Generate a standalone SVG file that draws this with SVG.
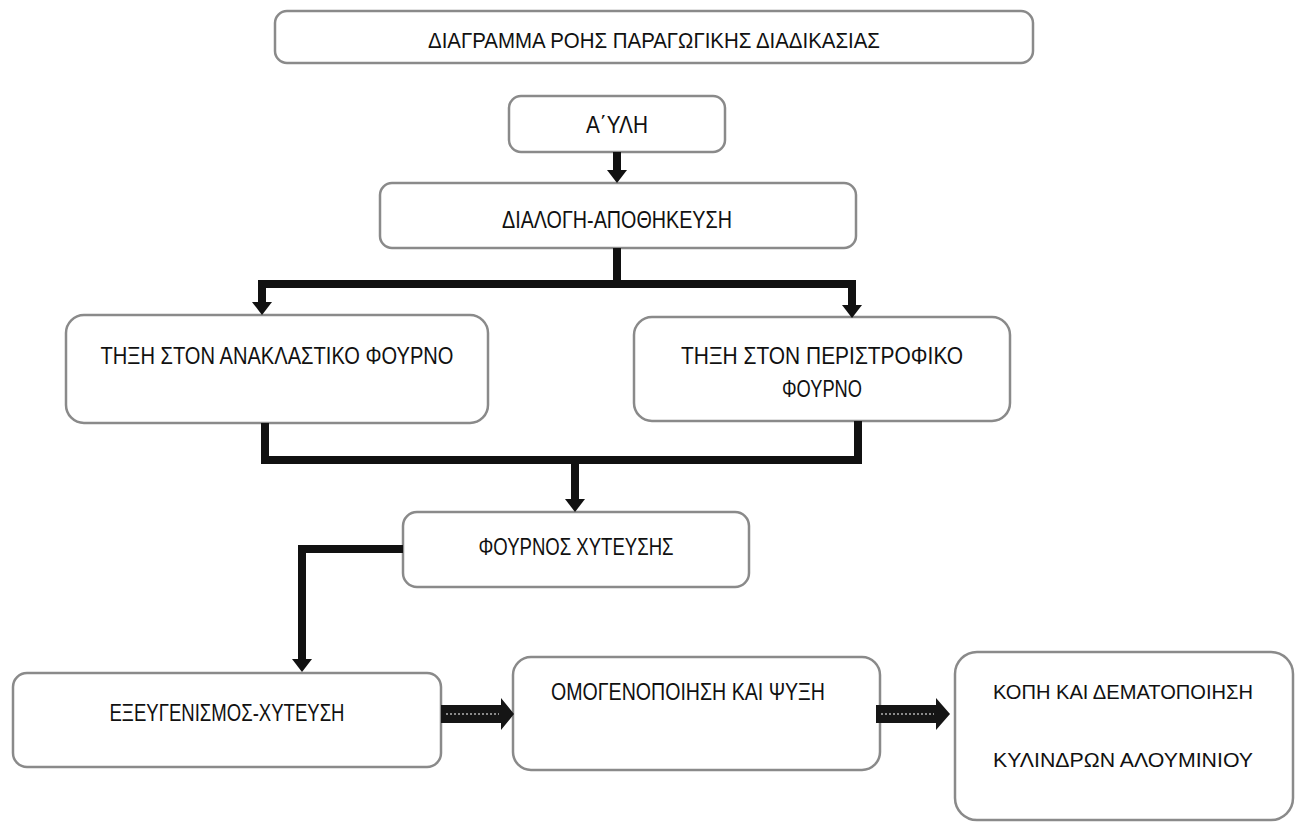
<svg xmlns="http://www.w3.org/2000/svg" width="1297" height="823" viewBox="0 0 1297 823">
<style>
.box{fill:#fff;stroke:#8a8a8a;stroke-width:2.5}
.t{font-family:"Liberation Sans","DejaVu Sans",sans-serif;font-size:24px;fill:#111;text-anchor:middle}
.ts{font-family:"Liberation Sans","DejaVu Sans",sans-serif;font-size:21px;fill:#111;text-anchor:middle}
.tt{font-family:"Liberation Sans","DejaVu Sans",sans-serif;font-size:22px;fill:#111;text-anchor:middle}
.c{fill:none;stroke:#111;stroke-width:8;stroke-linejoin:miter}
.blk{fill:#151515}
.core{stroke:#8a8a8a;stroke-width:2;stroke-dasharray:2 2}
</style>
<defs>
<marker id="ah" markerUnits="userSpaceOnUse" viewBox="0 0 13 20" markerWidth="13" markerHeight="20" refX="0" refY="10" orient="auto">
<path d="M0,0 L13,10 L0,20 z" fill="#111"/>
</marker>
</defs>
<g id="title">
<rect class="box" x="275" y="11" width="758" height="52" rx="12"/>
<text class="tt" x="654" y="48" textLength="452" lengthAdjust="spacingAndGlyphs">ΔΙΑΓΡΑΜΜΑ ΡΟΗΣ ΠΑΡΑΓΩΓΙΚΗΣ ΔΙΑΔΙΚΑΣΙΑΣ</text>
</g>
<g id="n_ayli">
<rect class="box" x="509" y="96" width="216" height="56" rx="12"/>
<text class="t" x="617" y="133" textLength="62" lengthAdjust="spacingAndGlyphs">Α΄ΥΛΗ</text>
</g>
<g id="n_dialogi">
<rect class="box" x="380" y="183" width="476" height="65" rx="12"/>
<text class="t" x="617" y="228" textLength="230" lengthAdjust="spacingAndGlyphs">ΔΙΑΛΟΓΗ-ΑΠΟΘΗΚΕΥΣΗ</text>
</g>
<g id="n_anaklastiko">
<rect class="box" x="66" y="315" width="422" height="108" rx="18"/>
<text class="t" x="277" y="364" textLength="353" lengthAdjust="spacingAndGlyphs">ΤΗΞΗ ΣΤΟΝ ΑΝΑΚΛΑΣΤΙΚΟ ΦΟΥΡΝΟ</text>
</g>
<g id="n_peristrofiko">
<rect class="box" x="634" y="317" width="376" height="104" rx="18"/>
<text class="t" x="822" y="364" textLength="282" lengthAdjust="spacingAndGlyphs">ΤΗΞΗ ΣΤΟΝ ΠΕΡΙΣΤΡΟΦΙΚΟ</text>
<text class="t" x="822" y="397" textLength="80" lengthAdjust="spacingAndGlyphs">ΦΟΥΡΝΟ</text>
</g>
<g id="n_xyteusis">
<rect class="box" x="403" y="512" width="346" height="75" rx="14"/>
<text class="t" x="576" y="555" textLength="195" lengthAdjust="spacingAndGlyphs">ΦΟΥΡΝΟΣ ΧΥΤΕΥΣΗΣ</text>
</g>
<g id="n_exeygenismos">
<rect class="box" x="13" y="673" width="428" height="94" rx="14"/>
<text class="t" x="227" y="721" textLength="235" lengthAdjust="spacingAndGlyphs">ΕΞΕΥΓΕΝΙΣΜΟΣ-ΧΥΤΕΥΣΗ</text>
</g>
<g id="n_omogenopoiisi">
<rect class="box" x="513" y="657" width="367" height="113" rx="18"/>
<text class="t" x="688" y="700" textLength="274" lengthAdjust="spacingAndGlyphs">ΟΜΟΓΕΝΟΠΟΙΗΣΗ ΚΑΙ ΨΥΞΗ</text>
</g>
<g id="n_kopi">
<rect class="box" x="955" y="652" width="338" height="168" rx="22"/>
<text class="ts" x="1123" y="699" textLength="260" lengthAdjust="spacingAndGlyphs">ΚΟΠΗ ΚΑΙ ΔΕΜΑΤΟΠΟΙΗΣΗ</text>
<text class="ts" x="1123" y="767" textLength="260" lengthAdjust="spacingAndGlyphs">ΚΥΛΙΝΔΡΩΝ ΑΛΟΥΜΙΝΙΟΥ</text>
</g>
<g id="connectors">
<path class="c" d="M617,152 V170" marker-end="url(#ah)"/>
<path class="c" d="M617,248 V284"/>
<path class="c" d="M262,303 V284 H852 V305" marker-end="url(#ah)"/>
<path class="c" d="M262,284 V302" marker-end="url(#ah)"/>
<path class="c" d="M265,423 V460 H858 V421"/>
<path class="c" d="M575,460 V499" marker-end="url(#ah)"/>
<path class="c" d="M403,549 H302 V659" marker-end="url(#ah)"/>
<polygon class="blk" points="441,705 501,705 501,698 514,714 501,730 501,723 441,723"/>
<line class="core" x1="446" y1="714" x2="499" y2="714"/>
<polygon class="blk" points="876,705 936,705 936,698 950,714 936,730 936,723 876,723"/>
<line class="core" x1="881" y1="714" x2="934" y2="714"/>
</g>
</svg>
